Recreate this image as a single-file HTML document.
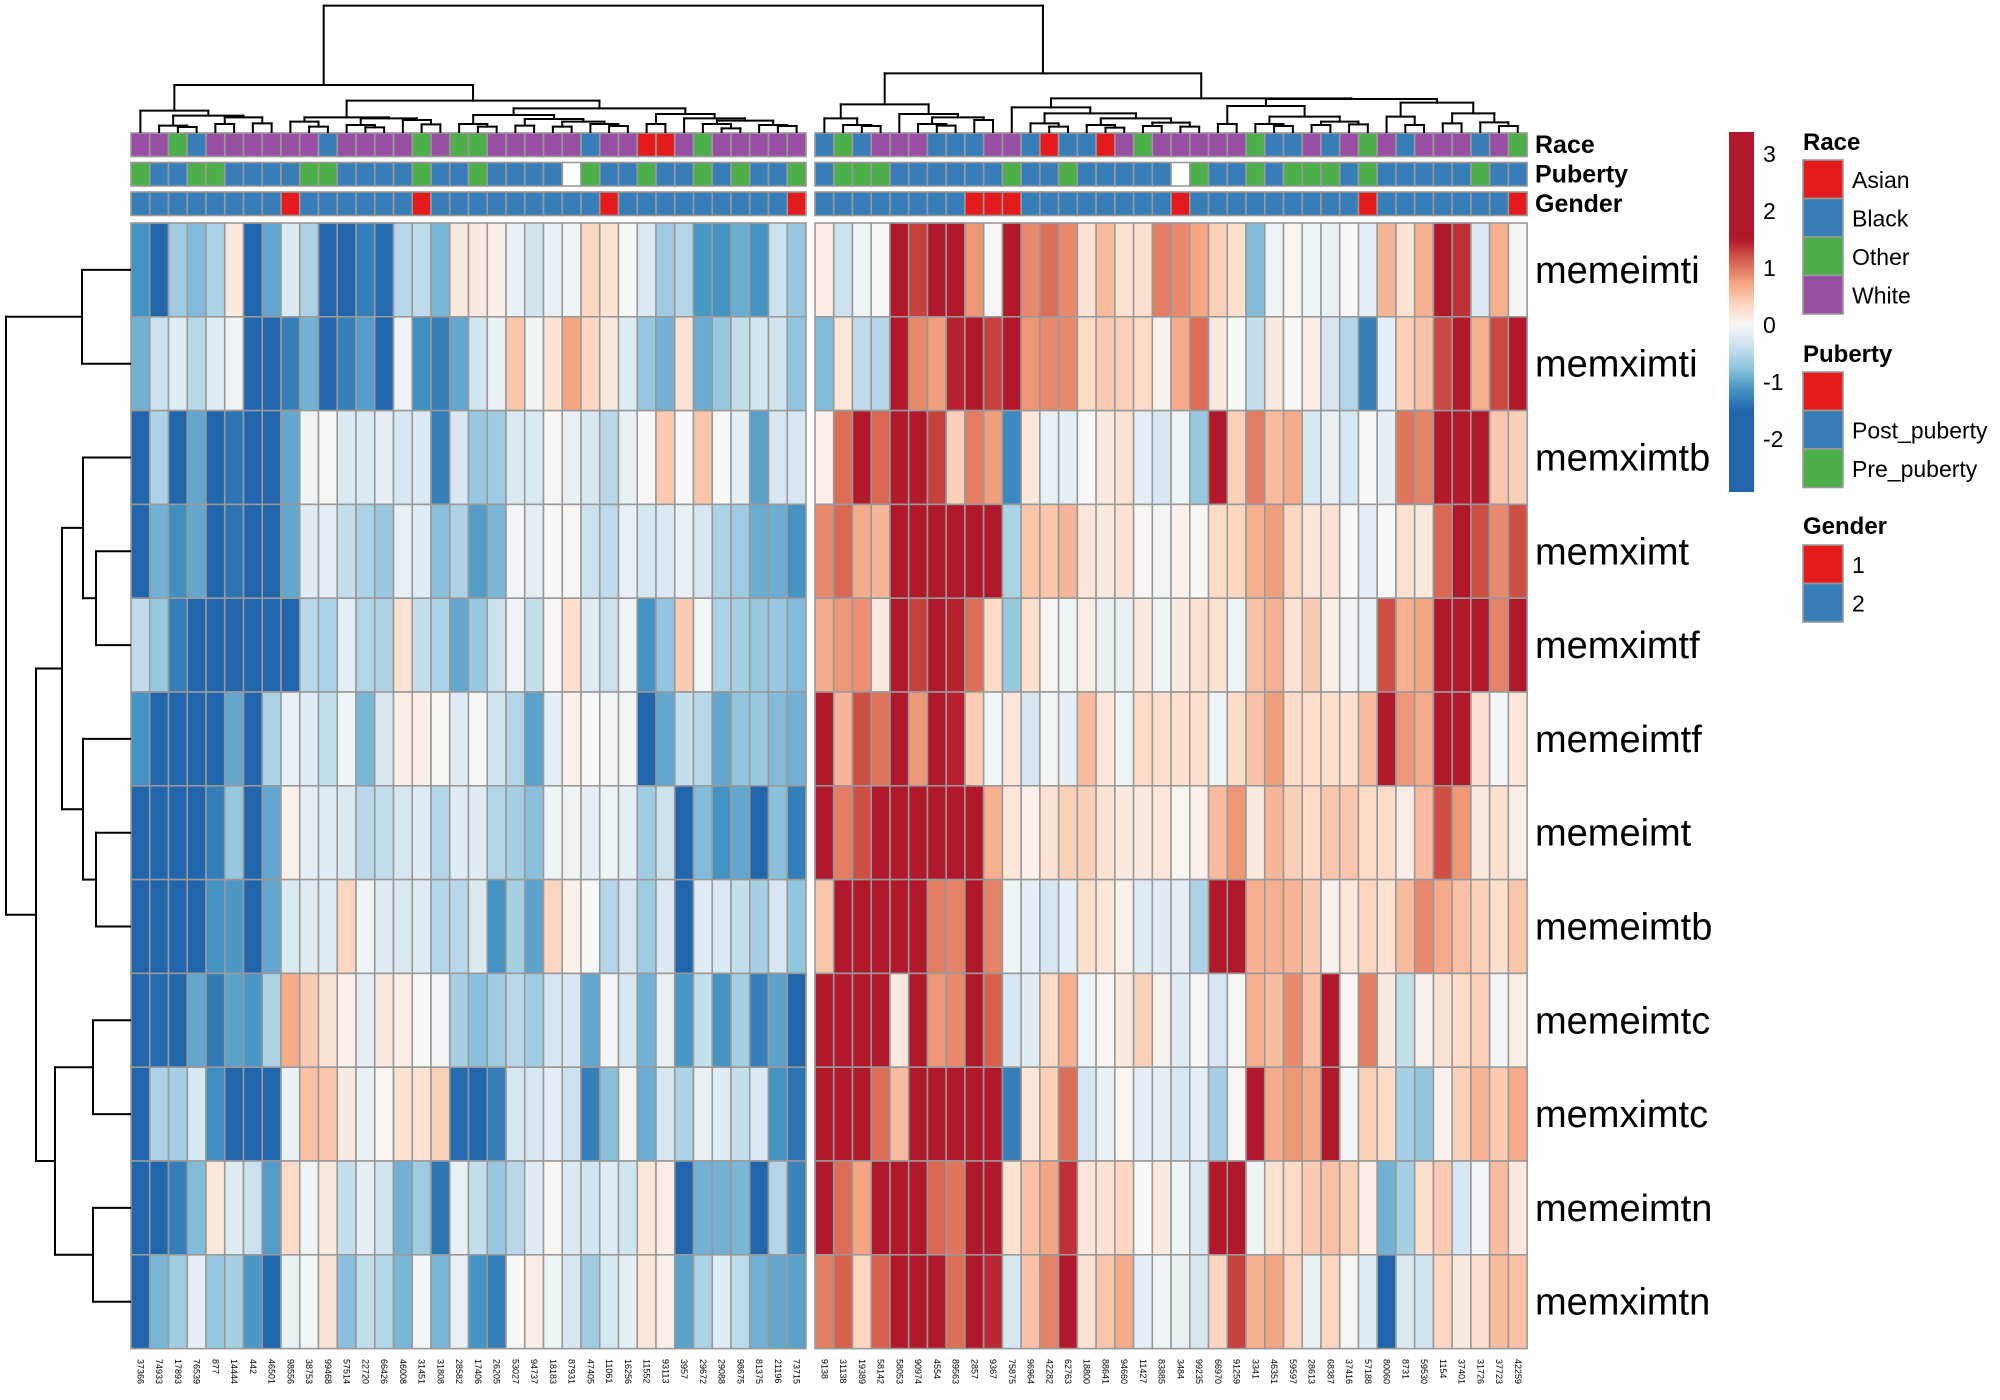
<!DOCTYPE html>
<html><head><meta charset="utf-8"><title>Heatmap</title>
<style>
html,body{margin:0;padding:0;background:#fff;}
svg{display:block;font-family:"Liberation Sans",Arial,sans-serif;}
</style></head>
<body>
<svg id="chart" width="2000" height="1400" viewBox="0 0 2000 1400" xmlns="http://www.w3.org/2000/svg">
<defs>
<linearGradient id="cbar" x1="0" y1="0" x2="0" y2="1"></linearGradient>
</defs>
<g id="heat"></g>
<g id="annot"></g>
<g id="coldendro"></g>
<g id="rowdendro"></g>
<g id="labels"></g>
<g id="legend">
  <rect x="1729" y="132" width="25" height="360" fill="url(#cbar)"/>
  <text x="1803" y="150" font-size="24" font-weight="bold">Race</text>
  <text x="1803" y="362" font-size="24" font-weight="bold">Puberty</text>
  <text x="1803" y="534" font-size="24" font-weight="bold">Gender</text>
</g>
</svg>
<script>
const rowNames = ["memeimti","memximti","memximtb","memximt","memximtf","memeimtf","memeimt","memeimtb","memeimtc","memximtc","memeimtn","memximtn"];
const colLabelsLeft = ["37366","74933","17893","76539","877","14444","442","46501","98556","38753","99468","57514","22720","66426","46008","31451","31808","28582","17406","26205","53027","94737","18183","87931","47405","11061","16256","11552","93113","3957","29672","29088","98675","81375","21196","73715"];
const colLabelsRight = ["9138","31138","19389","58142","58053","90974","4554","89563","2857","9367","75875","96964","42282","62763","18800","88641","94660","11427","83885","3484","99235","66970","91259","3341","46351","59597","28613","68387","37416","57188","80060","8731","59530","1154","37401","31726","37723","42259"];

const rowMemeimti = [-1.4,-1.9,-0.8,-1.0,-0.7,0.2,-1.9,-1.2,-0.3,-0.7,-1.9,-2,-1.6,-1.8,-0.6,-0.55,-1.05,0.2,0.2,0.15,-0.15,-0.4,-0.15,-0.1,0.45,0.3,0,-0.3,-0.8,-0.65,-1.35,-1.4,-1.15,-1.4,-0.45,-0.85,
 0.15,-0.45,-0.1,0,2,1.6,2,2,1.0,0,2,1.1,1.3,1.1,0.3,0.7,0.3,0.35,1.2,1.1,0.9,0.5,0.35,-1.0,-0.1,0.05,-0.1,-0.15,0,-0.2,0.75,0.3,0.8,2,1.7,-0.3,0.8,-0.05];
const rowMemximti = [-1.1,-0.45,-0.25,-0.6,-0.25,-0.1,-1.9,-1.9,-1.6,-1.1,-1.9,-1.6,-1.3,-1.9,-0.1,-1.45,-1.6,-1.2,-0.4,-0.15,0.6,-0.1,0.3,0.9,0.45,0.2,-0.25,-0.85,-1.1,0.3,-1.15,-0.85,-0.5,-0.4,-0.4,-0.9,
 -1.0,0.25,-0.55,-0.65,2,1.1,0.95,1.8,2,1.6,2,1.0,1.1,1.1,0.4,0.55,0.5,0.4,0.1,0.85,1.3,0.2,0,-0.5,0.2,0,0.15,-0.35,-0.65,-1.6,-0.2,0.5,0.65,1.55,2,0.8,1.55,2];
const rowMemximtb = [-1.9,-0.7,-1.9,-1.2,-1.9,-1.7,-1.9,-1.85,-1.2,-0.1,0.05,-0.3,-0.3,-0.2,-0.35,-0.3,-1.6,-0.35,-0.85,-0.8,-0.3,-0.3,0.05,-0.15,-0.35,-0.6,-0.15,0,0.55,0,0.6,0,-0.2,-1.25,-0.35,-0.35,
 0.1,1.3,2,1.35,2,2,1.6,0.5,1.2,0.95,-1.5,0.25,-0.15,-0.2,0,0.2,0.3,-0.2,-0.35,-0.1,-0.85,1.9,0.5,1.2,0.7,0.85,-0.35,-0.15,-0.35,0,-0.2,1.25,1.15,2,1.85,2,0.6,0.5];
const rowMemximt = [-1.9,-1.1,-1.45,-1.2,-1.9,-1.7,-1.9,-1.85,-1.2,-0.25,-0.2,-0.5,-0.7,-0.85,-0.15,-0.25,-0.95,-0.7,-1.3,-1.05,-0.05,-0.2,0,0.05,-0.45,-0.55,-0.15,-0.35,-0.3,-0.15,-0.35,-0.7,-0.8,-1.15,-1.15,-1.4,
 1.1,1.35,0.85,0.75,2,2,2,2,2,2,-0.7,0.6,0.6,0.75,0.25,0.2,0.3,0.05,-0.05,0.1,0,0.4,0.45,0.8,0.95,0.45,0.25,0.3,0,-0.2,0,0.3,0.2,1.35,2,1.5,1.1,1.5];
const rowMemximtf = [-0.55,-0.85,-1.6,-1.9,-1.9,-1.9,-1.9,-1.9,-1.95,-0.6,-0.7,-0.2,-0.65,-0.7,0.3,-0.5,-0.7,-1.2,-0.85,-0.45,-0.1,-0.5,0.05,0.35,-0.25,-0.45,-0.1,-1.4,-0.9,0.55,-0.05,-0.7,-0.75,-0.85,-0.85,-1.0,
 0.85,1.0,1.05,0.2,2,1.6,2,1.8,1.3,0.4,-0.85,0.35,0.05,-0.1,0.15,-0.15,-0.15,0.2,-0.1,0.2,0.3,0.3,-0.1,0.65,0.8,0.3,0.55,0.15,-0.1,-0.15,1.5,0.8,0.9,2,2,2,1.15,2];
const rowMemeimtf = [-1.4,-1.9,-1.9,-1.9,-1.9,-1.2,-1.9,-0.7,-0.15,-0.25,-0.5,-0.1,-1.05,-0.35,0.15,0.15,0.05,-0.25,0,-0.4,-0.65,-1.25,-0.2,0.1,0,-0.05,-0.05,-1.95,-1.2,-0.5,-0.6,-1.2,-0.9,-0.85,-1.0,-1.1,
 2,0.75,1.5,1.25,2,1.0,2,1.8,0.55,-0.05,0.25,-0.35,-0.05,-0.2,0.7,0.25,-0.1,0.4,0.35,0.35,0.35,-0.1,0.4,0.65,0.95,0.4,0.35,0.35,0.35,0.7,2,1.0,0.85,2,2,0.35,-0.05,0.25];
const rowMemeimt = [-1.9,-1.9,-1.9,-1.9,-1.6,-0.85,-1.9,-1.2,0.1,-0.2,-0.25,-0.3,-0.6,-0.5,-0.35,-0.25,-0.65,-0.25,-0.25,-0.65,-0.75,-0.95,-0.1,-0.1,-0.2,-0.1,-0.2,-0.8,-0.45,-1.85,-1.0,-1.4,-1.2,-1.9,-0.95,-1.6,
 2,1.2,1.5,2,2,2,2,2,2,0.8,0.25,0.1,0.3,0.5,0.5,0.3,0.2,0.2,0.25,0.05,0.1,0.7,1.0,0.2,0.75,0.5,0.4,0.6,0.6,0.4,0.4,0.15,0.7,1.5,1.0,0.2,0.35,0.15];
const rowMemeimtb = [-1.9,-1.9,-1.9,-1.9,-1.4,-1.35,-1.9,-1.2,-0.3,-0.25,-0.25,0.45,-0.1,-0.25,-0.3,-0.25,-0.65,-0.6,-0.3,-1.4,-0.75,-1.25,0.45,0.1,0,-0.65,-0.35,-0.8,-0.3,-1.9,-0.25,-0.3,-0.5,-0.75,-0.35,-0.9,
 0.6,2,2,2,2,1.9,1.2,1.15,2,1.15,-0.1,-0.2,-0.35,-0.2,0.35,0.25,0.1,-0.25,-0.25,-0.2,-0.7,2,2,0.8,0.8,0.75,0.55,0.1,0.25,0.45,0.3,0.7,1.1,0.85,0.65,0.5,0.35,0.6];
const rowMemeimtc = [-1.9,-1.8,-1.9,-1.2,-1.65,-1.25,-1.35,-0.7,0.85,0.55,0.3,0.1,-0.2,0.2,0.15,0,-0.05,-0.75,-0.95,-0.8,-0.6,-0.8,-0.35,-0.35,-1.2,-0.05,-0.35,-1.1,-0.15,-1.35,-0.5,-1.4,-0.75,-1.6,-1.25,-1.95,
 2,2,2,2,0.2,1.85,1.0,1.1,2,1.4,-0.35,-0.25,0.4,0.8,-0.1,0.05,0.2,0.5,0.1,-0.25,0,-0.35,0.05,0.8,0.7,1.1,0.65,1.85,0.05,1.2,0.2,-0.5,0.1,0.3,0.4,0.5,-0.05,0.15];
const rowMemximtc = [-1.9,-0.7,-0.75,-0.35,-1.45,-1.9,-1.9,-1.9,-0.15,0.65,0.6,0.2,-0.15,0.05,0.3,0.3,0.5,-1.8,-2,-1.6,-0.35,-0.35,-0.2,-0.45,-1.6,-0.95,-0.05,-1.15,-0.35,-0.7,-0.15,-0.25,-0.5,-0.3,-1.4,-1.7,
 2,2,2,1.3,0.7,2,2,2,2,2,-1.6,0.25,0.5,1.3,-0.35,-0.15,0.05,-0.2,-0.2,-0.35,-0.2,-0.75,0.05,2,0.85,1.0,0.85,2,-0.05,0.5,0.4,-0.75,-0.9,0.1,0.5,0.75,0.55,0.85];
const rowMemeimtn = [-1.9,-1.95,-1.6,-1.0,0.25,-0.25,-0.45,-1.3,0.4,-0.1,0.2,-0.5,-0.2,-0.4,-1.1,-0.8,-1.7,-0.15,-0.5,-0.85,-0.6,-0.25,0.05,-0.3,-0.4,-0.25,-0.4,0.25,0.15,-1.9,-1.1,-1.1,-1.05,-1.9,-0.65,-1.55,
 2,1.3,0.9,2,2,2,1.35,1.25,2,1.9,0.3,0.65,0.9,1.7,0.25,0.3,0.45,0,0.2,-0.1,-0.3,2,2,-0.1,0.3,0.4,0.55,0.65,0.5,0.15,-1.1,-0.75,0.35,0.55,-0.35,-0.05,0.7,0.2];
const rowMemximtn = [-1.9,-1.05,-0.8,-0.2,-0.85,-0.75,-1.35,-1.9,-0.15,-0.05,0.3,-0.95,-0.5,-0.65,-1.05,-0.05,-1.05,-0.15,-1.4,-1.6,0,0.15,-0.1,-0.35,-0.8,-0.35,-0.2,0.25,0.1,-1.25,-0.7,-0.25,-0.55,-1.1,-1.2,-1.25,
 1.2,1.4,0.45,1.4,2,2,2,1.3,2,1.75,-0.35,0.65,1.15,2,0.3,0.6,0.85,-0.2,-0.1,-0.15,-0.35,0.45,1.6,0.8,0.9,0.45,-0.15,0.45,0.05,-0.25,-1.9,-0.3,-0.4,0.45,0.2,0.35,0.7,0.65];
const values = [rowMemeimti,rowMemximti,rowMemximtb,rowMemximt,rowMemximtf,rowMemeimtf,rowMemeimt,rowMemeimtb,rowMemeimtc,rowMemximtc,rowMemeimtn,rowMemximtn];

const raceLeft = "WWOBWWWWWWBWWWWOWOOWWWWWBWWAAWOWWWWW";
const raceRight = "BOBWWWBBBWWBABBAWOWWWWWOBBWBWOWBWWWBWO";
const pubertyLeft = "GBBGGBBBBGGBBBBGBBGBBBBNGBBGBBGBGBBG";
const pubertyRight = "BGGGBBBBBBGBBGBBBBBNGBBGBGGGBGBBBBBGBB";
const genderLeft = "222222221222222122222222212222222221";
const genderRight = "22222222111222222221222222222122222221";

const cbTicks = [3,2,1,0,-1,-2];
const raceLegend = ["Asian","Black","Other","White"];
const pubertyLegend = ["","Post_puberty","Pre_puberty"];
const genderLegend = ["1","2"];

const treeLeft = [255,
  [332, 0, [347, [377, 1, [381, 2, 3]], [352, [372,4,5], [370,6,7]]]],
  [302,
    [352, [365, 8, [380, 9, 10]], [355, [375, 11, [382, 12, 13]], [360, 14, [373, 15, 16]]]],
    [325,
      [345, [372, 17, [380, 18, 19]], [357, [377, 20, 21], [365, [380, 22, 23], [372, 24, [378, 25, 26]]]]],
      [342, [372, 27, 28], [355, 29, [362, [372, 30, [385, 31, 32]], [375, 33, [378, 34, 35]]]]]
    ]
  ]
];
const treeRight = [220,
  [313, [355, 0, [375, 1, [378, 2, 3]]], [342, 4, [352, [372, 5, [377, 6, 7]], [360, 8, 9]]]],
  [295,
    [322, 10, [340, [370, 11, [380, 12, 13]], [355, [375, 14, [383, 15, 16]], [368, [378, 17, 18], [380, 19, 20]]]]],
    [297,
      [318, [372, 21, 22], [350, [372, 23, [378, 24, 25]], [365, [375, 26, 27], [373, 28, 29]]]],
      [308, [350, 30, [375, 31, 32]], [340, [370, 33, 34], [367, 35, [378, 36, 37]]]]
    ]
  ]
];
const rowTree = [6, [82, 0, 1], [36, [62, [83, 2, [96, 3, 4]], [83, 5, [96, 6, 7]]], [55, [93, 8, 9], [93, 10, 11]]]];

const NS = "http://www.w3.org/2000/svg";
const L0 = 131, R0 = 815, CW = 18.75, CWR = 18.74, TOP = 223, RH = 93.8;
const colX = i => i < 36 ? L0 + i*CW : R0 + (i-36)*CWR;
const colW = i => i < 36 ? CW : CWR;
const colC = i => colX(i) + colW(i)/2;
const rowY = r => TOP + r*RH;
const cbY = v => 325 - v*57;

const stops = [[-1.85,[33,102,172]],[-1.4,[67,147,195]],[-0.9,[146,197,222]],[-0.4,[209,229,240]],[0,[247,247,247]],[0.4,[253,219,199]],[0.9,[244,165,130]],[1.4,[214,96,77]],[1.85,[178,24,43]]];
function color(v){
  if (v <= stops[0][0]) return rgb(stops[0][1]);
  for (let k=1;k<stops.length;k++){
    if (v <= stops[k][0]){
      const a=stops[k-1], b=stops[k], t=(v-a[0])/(b[0]-a[0]);
      return rgb(a[1].map((c,j)=>c+(b[1][j]-c)*t));
    }
  }
  return rgb(stops[stops.length-1][1]);
}
function rgb(a){return "rgb("+a.map(x=>Math.round(x)).join(",")+")";}
function mk(tag, attrs, parent){
  const e=document.createElementNS(NS,tag);
  for (const k in attrs) e.setAttribute(k, attrs[k]);
  parent.appendChild(e); return e;
}

const heat = document.getElementById("heat");
values.forEach((row, r) => {
  row.forEach((v, c) => {
    const el = mk("rect", {x: colX(c), y: rowY(r), width: colW(c), height: RH, fill: color(v), stroke: "#999", "stroke-width": 1.6}, heat);
    
    
  });
});

const annColors = {W:"#984EA3",B:"#377EB8",O:"#4DAF4A",A:"#E41A1C",G:"#4DAF4A",N:"#FFFFFF","1":"#E41A1C","2":"#377EB8"};
const pubColors = {B:"#377EB8",G:"#4DAF4A",N:"#FFFFFF"};
const annot = document.getElementById("annot");
const tracks = [
  {name:"Race", codes: raceLeft+raceRight, y:133, map:annColors},
  {name:"Puberty", codes: pubertyLeft+pubertyRight, y:162.5, map:pubColors},
  {name:"Gender", codes: genderLeft+genderRight, y:192, map:annColors}
];
tracks.forEach(t => {
  for (let c=0;c<74;c++){
    const el = mk("rect", {x: colX(c), y: t.y, width: colW(c), height: 23.5, fill: t.map[t.codes[c]], stroke:"#999", "stroke-width":1.6}, annot);
    
    
  }
  const lab = mk("text", {x: 1535, y: t.y + 20, "font-size": 25, "font-weight": "bold"}, annot);
  lab.textContent = t.name;
  
  
});

const labels = document.getElementById("labels");
rowNames.forEach((n, r) => {
  const el = mk("text", {x: 1535, y: rowY(r) + RH/2 + 13, "font-size": 38}, labels);
  el.textContent = n;
  
  
});
const colLabels = colLabelsLeft.concat(colLabelsRight);
colLabels.forEach((n, c) => {
  const cx = colC(c);
  const el = mk("text", {transform: "translate("+(cx-3)+",1359) rotate(90)", "font-size": 9}, labels);
  el.textContent = n;
  
  
});

const cd = document.getElementById("coldendro");
function line(x1,y1,x2,y2,parent){
  const el = mk("line", {x1,y1,x2,y2,stroke:"#000","stroke-width":2,"stroke-linecap":"square"}, parent);
  
  
}
const LEAFY = 132;
function drawCol(node, off){
  if (typeof node === "number") return {x: colC(node+off), y: LEAFY};
  const y = node[0]/3;
  const a = drawCol(node[1], off), b = drawCol(node[2], off);
  line(a.x, y, a.x, a.y, cd); line(b.x, y, b.x, b.y, cd); line(a.x, y, b.x, y, cd);
  return {x:(a.x+b.x)/2, y};
}
const la = drawCol(treeLeft, 0), ra = drawCol(treeRight, 36);
const rootY = 17/3;
line(la.x, rootY, la.x, la.y, cd); line(ra.x, rootY, ra.x, ra.y, cd); line(la.x, rootY, ra.x, rootY, cd);

const rd = document.getElementById("rowdendro");
function drawRow(node){
  if (typeof node === "number") return {y: rowY(node)+RH/2, x: 130};
  const x = node[0];
  const a = drawRow(node[1]), b = drawRow(node[2]);
  line(x, a.y, a.x, a.y, rd); line(x, b.y, b.x, b.y, rd); line(x, a.y, x, b.y, rd);
  return {x, y:(a.y+b.y)/2};
}
drawRow(rowTree);

const grad = document.getElementById("cbar");
for (let k=0;k<=60;k++){
  const y = 132 + k*6;
  const v = (325 - y)/57;
  mk("stop", {offset: (k/60), "stop-color": color(v*1.23)}, grad);
}
const legend = document.getElementById("legend");
cbTicks.forEach(t => {
  const el = mk("text", {x: 1763, y: cbY(t) + 8, "font-size": 23}, legend);
  el.textContent = String(t);
  
  
});
function legendBlock(items, cols, y0){
  items.forEach((lab, i) => {
    const y = y0 + i*38.5;
    const r = mk("rect", {x:1803, y:y, width:40, height:38.5, fill: cols[i], stroke:"#999", "stroke-width":1.6}, legend);
    
    
    const t = mk("text", {x:1852, y:y+28, "font-size":23}, legend);
    t.textContent = lab;
    
    
  });
}
legendBlock(raceLegend, ["#E41A1C","#377EB8","#4DAF4A","#984EA3"], 160);
legendBlock(pubertyLegend, ["#E41A1C","#377EB8","#4DAF4A"], 372);
legendBlock(genderLegend, ["#E41A1C","#377EB8"], 545);
</script>
</body></html>
